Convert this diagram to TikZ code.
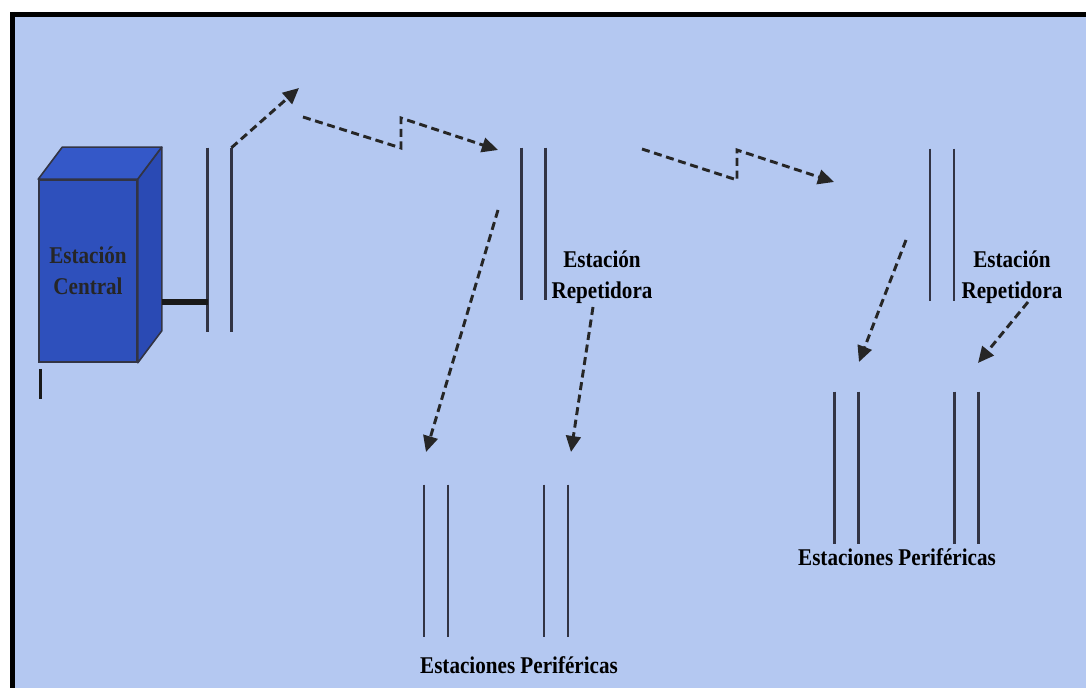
\documentclass[tikz,border=0pt]{standalone}
\usepackage{fontspec}
\setmainfont[FakeStretch=0.88]{Liberation Serif}
\usetikzlibrary{arrows.meta,positioning}

\definecolor{fondo}{RGB}{180,200,241}
\definecolor{frente}{RGB}{46,80,188}
\definecolor{techo}{RGB}{52,88,200}
\definecolor{lado}{RGB}{42,74,180}
\definecolor{gris}{RGB}{50,52,68}

\begin{document}
\begin{tikzpicture}[
  x=0.75pt, y=-0.75pt,
  font=\bfseries\fontsize{18}{23}\selectfont,
  node distance=72pt,
  caja/.style={
    fill=frente,
    draw=gris,
    line width=1.2pt,
    align=center,
    text=black!85,
    inner sep=0pt,
    minimum width=73.5pt,
    minimum height=136.5pt
  },
  cara/.style={draw=gris, line width=1.2pt, line join=round},
  mastil/.style={inner sep=0pt, minimum width=17.5pt, minimum height=114pt},
  linea/.style={draw=gris, line width=1.8pt},
  etiqueta/.style={align=center, inner sep=0pt, text=black},
  cable/.style={draw=black!90, line width=3.8pt},
  enlace/.style={-{Triangle[length=12pt,width=11pt]}, line width=2.2pt,
    dash pattern=on 6pt off 3.5pt, draw=black!85, line join=miter}
]

\useasboundingbox (0,0) rectangle (1086,688);
\fill[white] (0,0) rectangle (1086,688);
\fill[fondo] (12,14) rectangle (1086,688);
\draw[black, line width=3.8pt] (10,14.5) -- (1086,14.5);
\draw[black, line width=3.8pt] (12.5,12) -- (12.5,688);

% estacion central
\node[caja] (central) at (88,271) {Estación\\Central};
\filldraw[cara, fill=techo] (central.north west) -- ++(24,-32)
  -- ([shift={(24,-32)}]central.north east) -- (central.north east) -- cycle;
\filldraw[cara, fill=lado] (central.north east) -- ++(24,-32)
  -- ([shift={(24,-32)}]central.south east) -- (central.south east) -- cycle;
\draw[cable, line width=2.2pt] ([shift={(2,6)}]central.south west) -- ++(0,30);

% antenas
\node[mastil, minimum height=138pt] (ac) at (219.5,240) {};
\node[mastil] (r1) at (533.5,224) {};
\node[mastil] (r2) at (942,225) {};
\node[mastil] (p1) at (436,561) {};
\node[mastil, right=of p1] (p2) {};
\node[mastil] (p3) at (846.5,468) {};
\node[mastil, right=of p3] (p4) {};

\foreach \m in {ac,r1,r2,p1,p2,p3,p4}
  \draw[linea] (\m.north west) -- (\m.south west) (\m.north east) -- (\m.south east);

\coordinate (enchufe) at ([shift={(24,31)}]central.east);
\draw[cable] (enchufe) -- (enchufe -| ac.west);

% textos
\node[etiqueta] (lr1) at (602,277) {Estación\\Repetidora};
\node[etiqueta] (lr2) at (1012,277) {Estación\\Repetidora};
\node[etiqueta] (lp1) at (519,665) {Estaciones Periféricas};
\node[etiqueta] (lp2) at (897,557) {Estaciones Periféricas};

% enlaces
\coordinate (s1) at (299,88);
\coordinate (z1a) at (303,117);
\coordinate (z1b) at (401,148);
\coordinate (z1c) at (401,118);
\coordinate (z1d) at (498,150);
\coordinate (z2a) at (642,149);
\coordinate (z2b) at (737,180);
\coordinate (z2c) at (737,150);
\coordinate (z2d) at (834,182);
\coordinate (b1) at (498,210);
\coordinate (e1) at (426,452);
\coordinate (b2) at (593,307);
\coordinate (e2) at (571,452);
\coordinate (b3) at (906,240);
\coordinate (e3) at (859,362);
\coordinate (b4) at (1028,302);
\coordinate (e4) at (978,363);

\draw[enlace] (ac.north east) -- (s1);
\draw[enlace] (z1a) -- (z1b) -- (z1c) -- (z1d);
\draw[enlace] (z2a) -- (z2b) -- (z2c) -- (z2d);
\draw[enlace] (b1) -- (e1);
\draw[enlace] (b2) -- (e2);
\draw[enlace] (b3) -- (e3);
\draw[enlace] (b4) -- (e4);

\end{tikzpicture}
\end{document}
